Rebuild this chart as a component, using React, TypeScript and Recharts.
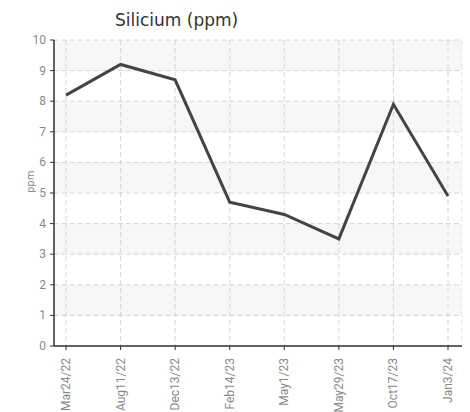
import React from 'react';
import { LineChart, Line, XAxis, YAxis, CartesianGrid } from 'recharts';

const dates = ['Mar24/22', 'Aug11/22', 'Dec13/22', 'Feb14/23', 'May1/23', 'May29/23', 'Oct17/23', 'Jan3/24'];
const silicium = [8.2, 9.2, 8.7, 4.7, 4.3, 3.5, 7.9, 4.9];
const yTicks = [0, 1, 2, 3, 4, 5, 6, 7, 8, 9, 10];

const data = dates.map((d, i) => ({ date: d, value: silicium[i] }));

const tickFont = "'Liberation Sans Narrow', 'Roboto', sans-serif";

const XTick = (props: any) => {
  const { x, y, payload } = props;
  return (
    <text x={x} y={y + 6} transform={`rotate(-90, ${x}, ${y + 6})`} textAnchor="end" dominantBaseline="central" fontSize={12} fill="#8a8a8a" fontFamily={tickFont}>
      {payload.value}
    </text>
  );
};

const YTick = (props: any) => {
  const { x, y, payload } = props;
  return (
    <text x={x - 2} y={y} textAnchor="end" dominantBaseline="central" fontSize={12} fill="#8a8a8a" fontFamily={tickFont}>
      {payload.value}
    </text>
  );
};

export default function App() {
  return (
    <div style={{ position: 'relative', width: 462, height: 404 }}>
      <div style={{ position: 'absolute', left: 107, top: 2, fontFamily: "'DejaVu Sans', Verdana, sans-serif", fontSize: 17, color: '#333' }}>
        Silicium (ppm)
      </div>
      <LineChart width={462} height={404} data={data} margin={{ top: 32, right: 8, bottom: 4, left: 0 }}>
        <CartesianGrid stroke="#d6d6d6" strokeDasharray="5 3" horizontalFill={['#f7f7f7', '#ffffff']} fillOpacity={1} />
        <XAxis dataKey="date" interval={0} padding={{ left: 12, right: 14 }} height={62} tick={<XTick />} tickSize={4} axisLine={{ stroke: '#333', strokeWidth: 1.5 }} tickLine={{ stroke: '#333' }} />
        <YAxis domain={[0, 10]} ticks={yTicks} width={46} tickSize={4} interval={0}
          tick={<YTick />}
          axisLine={{ stroke: '#333', strokeWidth: 1.5 }} tickLine={{ stroke: '#333' }}
          label={{ value: 'ppm', angle: -90, position: 'insideLeft', offset: 22, fontSize: 10, fill: '#888', fontFamily: "'DejaVu Sans', sans-serif" }} />
        <Line type="linear" dataKey="value" stroke="#444" strokeWidth={3} dot={false} isAnimationActive={false} />
      </LineChart>
    </div>
  );
}
